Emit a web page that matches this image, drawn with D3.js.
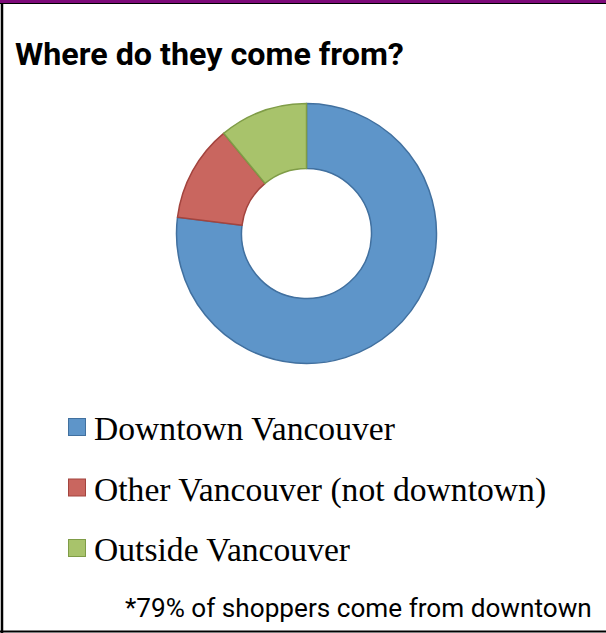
<!DOCTYPE html>
<html><head><meta charset="utf-8">
<script src="https://cdn.jsdelivr.net/npm/d3@7"></script>
<style>html,body{margin:0;padding:0;background:#fff;}svg{display:block;}</style>
</head><body>
<svg id="c" width="606" height="633"></svg>
<script>
const categories = ["Downtown Vancouver", "Other Vancouver (not downtown)", "Outside Vancouver"];
const values = [77, 12, 11];
const fills = ["#5e95c9", "#c9665f", "#a8c36b"];
const strokes = ["#41709f", "#a3443e", "#7f9c47"];
const title = "Where do they come from?";
const footnote = "*79% of shoppers come from downtown";

const svg = d3.select("#c");
const W = 606, H = 633;

// frame
svg.append("rect").attr("x",0).attr("y",0).attr("width",W).attr("height",3).attr("fill","#7d0a79");
svg.append("line").attr("x1",0).attr("x2",W).attr("y1",3.5).attr("y2",3.5).attr("stroke","#000").attr("stroke-width",1);
svg.append("line").attr("x1",2).attr("x2",2).attr("y1",3).attr("y2",H).attr("stroke","#000").attr("stroke-width",2.5);
svg.append("line").attr("x1",0).attr("x2",W).attr("y1",631.5).attr("y2",631.5).attr("stroke","#000").attr("stroke-width",2);

function fitText(sel, target) {
  const w = sel.node().getComputedTextLength();
  const fs = parseFloat(sel.attr("font-size"));
  sel.attr("font-size", fs * target / w);
}

const t = svg.append("text").attr("x",15).attr("y",65)
  .attr("font-family","Roboto, 'DejaVu Sans', sans-serif").attr("font-weight","bold")
  .attr("font-size",28).attr("fill","#000").text(title);
fitText(t, 389);

// donut
const cx = 306.5, cy = 233.5, rOut = 130, rIn = 65;
const pie = d3.pie().sort(null).value(d => d);
const arc = d3.arc().innerRadius(rIn).outerRadius(rOut);
const g = svg.append("g").attr("transform",`translate(${cx},${cy})`);
g.selectAll("path").data(pie(values)).join("path")
  .attr("d", arc)
  .attr("fill", (d,i) => fills[i])
  .attr("stroke", (d,i) => strokes[i])
  .attr("stroke-width", 1.5)
  .attr("stroke-linejoin","round");

// legend
const rowY = d3.scalePoint().domain(categories).range([427, 548]);
const lg = svg.append("g");
categories.forEach((c,i) => {
  const y = rowY(c);
  lg.append("rect").attr("x",68.5).attr("y",y-8.5).attr("width",17).attr("height",17)
    .attr("fill",fills[i]).attr("stroke",strokes[i]).attr("stroke-width",1);
  const tx = lg.append("text").attr("x",94).attr("y",y+13)
    .attr("font-family","'Liberation Serif', 'DejaVu Serif', serif")
    .attr("font-size",30).attr("fill","#000").text(c);
  if (i===0) fitText(tx, 301);
});
const fsL = lg.select("text").attr("font-size");
lg.selectAll("text").attr("font-size", fsL);

const f = svg.append("text").attr("x",125).attr("y",617)
  .attr("font-family","Roboto, 'DejaVu Sans', sans-serif")
  .attr("font-size",20).attr("fill","#000").text(footnote);
fitText(f, 467);
</script>
</body></html>
